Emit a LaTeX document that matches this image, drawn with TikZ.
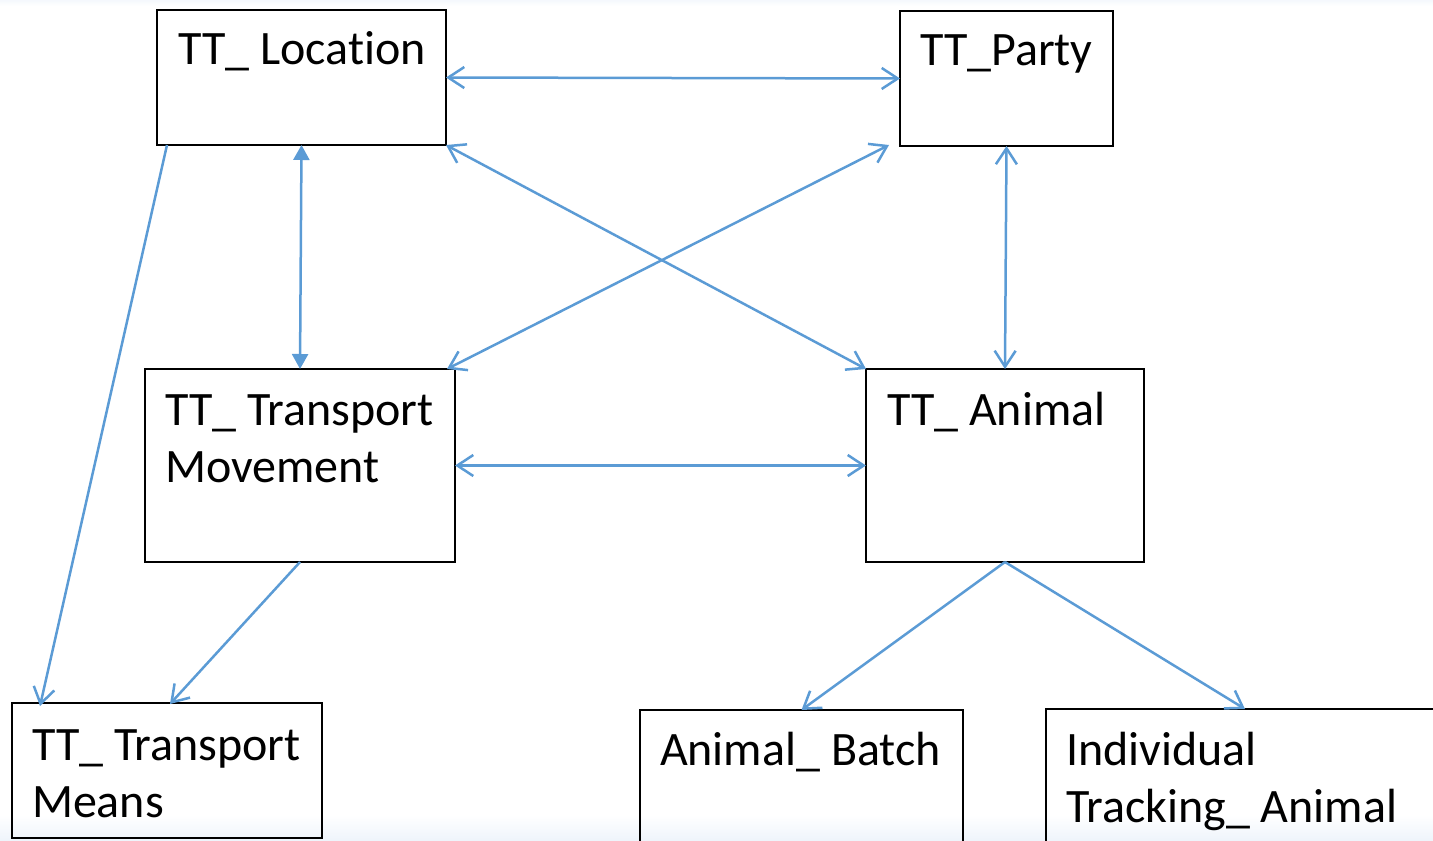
\documentclass[tikz,border=0pt]{standalone}
\usepackage{fontspec}
\setmainfont[Ligatures=NoCommon]{Carlito}
\usetikzlibrary{arrows.meta}
\definecolor{arr}{HTML}{5B9BD5}
\definecolor{bgb}{HTML}{EEF4FB}
\tikzset{obar/.tip={Straight Barb[length=16pt,width=21pt]},
  fbar/.tip={Triangle[length=15pt,width=16pt]}}
\begin{document}
\begin{tikzpicture}[x=1pt,y=-1pt,
  box/.style={draw=black, line width=1.5pt, inner sep=0pt, outer sep=0pt, anchor=north west},
  lbl/.style={inner sep=0pt, outer sep=0pt, anchor=base west, align=left,
    font=\fontsize{48}{57}\selectfont},
  conn/.style={draw=arr, line width=2.5pt}]
\useasboundingbox (0,0) rectangle (1433,841);
\shade[top color=white, bottom color=bgb] (0,815) rectangle (1433,841);
\shade[bottom color=white, top color=bgb!60] (0,0) rectangle (1433,6);
% boxes
\node[box, minimum width=289pt, minimum height=135pt] (loc) at (157,10) {};
\node[box, minimum width=213pt, minimum height=135pt] (party) at (900,11) {};
\node[box, minimum width=310pt, minimum height=193pt] (tm) at (145,369) {};
\node[box, minimum width=278pt, minimum height=193pt] (anim) at (866,369) {};
\node[box, minimum width=310pt, minimum height=135pt] (means) at (12,703) {};
\node[box, minimum width=323pt, minimum height=160pt] (batch) at (640,710) {};
\node[box, minimum width=420pt, minimum height=160pt] (indiv) at (1046,709) {};
% texts (base anchor of a two-line node is the baseline of its last line)
\node[lbl] (locT) at ([xshift=21pt,yshift=-54pt]loc.north west) {TT\_ Location};
\node[lbl] (partyT) at ([xshift=20pt,yshift=-54pt]party.north west) {TT\_Party};
\node[lbl] (tmT) at ([xshift=20pt,yshift=-113pt]tm.north west) {TT\_ Transport\\Movement};
\node[lbl] (animT) at ([xshift=21pt,yshift=-56pt]anim.north west) {TT\_ Animal};
\node[lbl] (meansT) at ([xshift=20pt,yshift=-114pt]means.north west) {TT\_ Transport\\Means};
\node[lbl] (batchT) at ([xshift=20pt,yshift=-55pt]batch.north west) {Animal\_ Batch};
\node[lbl] (indivT) at ([xshift=20pt,yshift=-113pt]indiv.north west) {Individual\\Tracking\_ Animal};
% connectors
\draw[conn, obar-obar] (loc.east) -- (party.west);
\draw[conn, obar-obar] (loc.south east) -- (anim.north west);
\draw[conn, obar-obar] ([xshift=-11pt,yshift=1pt]party.south west) -- ([xshift=-8pt]tm.north east);
\draw[conn, fbar-fbar] (loc.south) -- (tm.north);
\draw[conn, obar-obar] (party.south) -- (anim.north);
\draw[conn, obar-obar] (tm.east) -- (anim.west);
\draw[conn, -obar] ([xshift=10pt]loc.south west) -- ([xshift=28pt,yshift=-3pt]means.north west);
\draw[conn, -obar] (tm.south) -- ([xshift=158pt,yshift=-1pt]means.north west);
\draw[conn, -obar] (anim.south) -- (batch.north);
\draw[conn, -obar] (anim.south) -- ([xshift=199pt]indiv.north west);
\end{tikzpicture}
\end{document}
